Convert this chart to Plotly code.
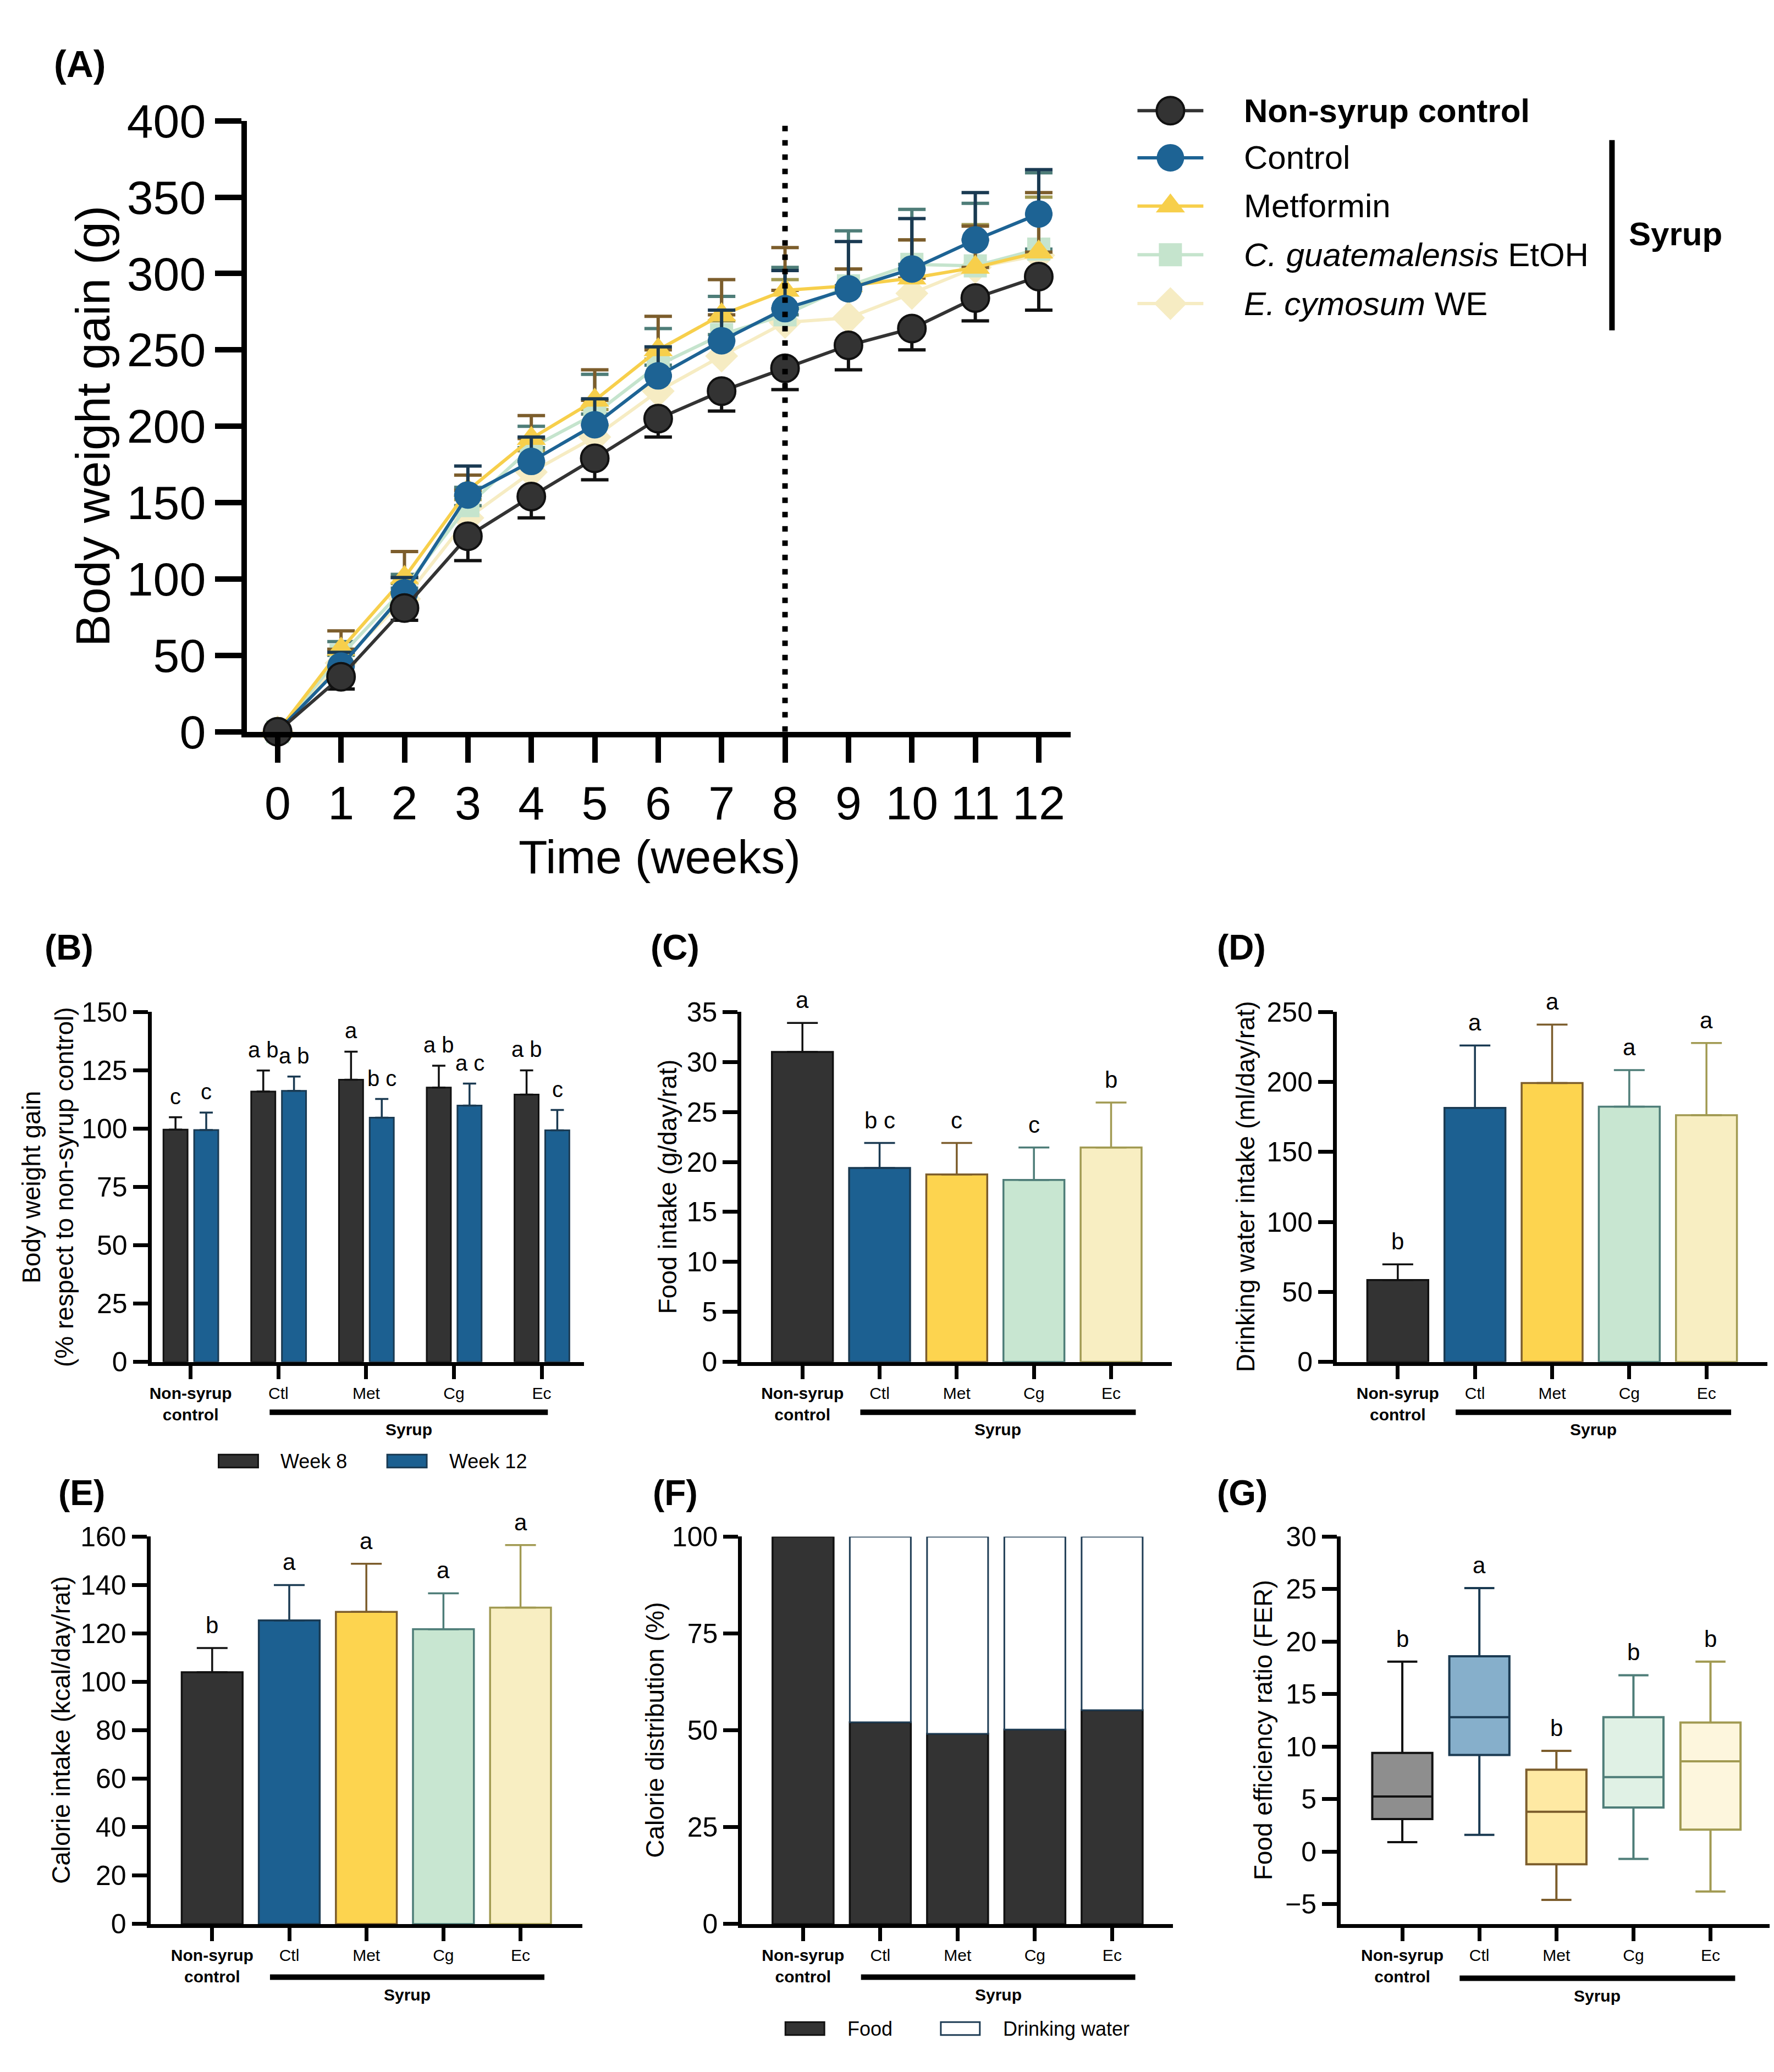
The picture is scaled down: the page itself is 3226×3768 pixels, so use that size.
import plotly.graph_objects as go

W, H = 3226, 3768
FONT = "Liberation Sans, Arial, Helvetica, sans-serif"

# ---------------- data ----------------
weeks = list(range(13))

bw_nonsyrup = [0, 36, 81, 128, 154, 179, 205, 223, 238, 253, 264, 284, 298]
bw_nonsyrup_sd = [0, 8, 8, 16, 14, 14, 12, 13, 14, 16, 14, 15, 22]
bw_ctl = [0, 43, 91, 155, 177, 201, 233, 256, 277, 290, 303, 322, 339]
bw_ctl_sd = [0, 9, 10, 19, 16, 17, 19, 20, 25, 31, 33, 31, 29]
bw_met = [0, 54, 101, 158, 192, 217, 250, 273, 289, 292, 297, 304, 314]
bw_met_sd = [0, 12, 17, 10, 15, 20, 22, 23, 28, 11, 25, 27, 39]
bw_cg = [0, 50, 94, 148, 186, 208, 240, 260, 273, 292, 306, 305, 316]
bw_cg_sd = [0, 9, 9, 12, 14, 26, 24, 25, 31, 36, 36, 41, 50]
bw_ec = [0, 45, 87, 140, 170, 193, 223, 246, 268, 271, 287, 304, 312]
bw_ec_sd = [0, 9, 10, 12, 14, 18, 21, 23, 28, 32, 35, 28, 38]

groups = ["Non-syrup control", "Ctl", "Met", "Cg", "Ec"]
group_ticks = ["<b>Non-syrup</b><br><b>control</b>", "Ctl", "Met", "Cg", "Ec"]

# (B) body weight gain, % of non-syrup control
bwg_week8 = [99.6, 115.9, 121.0, 117.6, 114.6]
bwg_week8_sd = [5.3, 9.0, 12.0, 9.4, 10.4]
bwg_week12 = [99.4, 116.2, 104.7, 109.9, 99.3]
bwg_week12_sd = [7.5, 6.1, 8.0, 9.4, 8.7]
letters_b_w8 = ["c", "a b", "a", "a b", "a b"]
letters_b_w12 = ["c", "a b", "b c", "a c", "c"]

# (C) food intake
food = [31.0, 19.4, 18.75, 18.2, 21.45]
food_sd = [2.9, 2.5, 3.15, 3.25, 4.5]
letters_c = ["a", "b c", "c", "c", "b"]

# (D) drinking water intake
water = [58.5, 181.5, 199.3, 182.4, 176.3]
water_sd = [11.2, 44.6, 41.7, 26.1, 51.5]
letters_d = ["b", "a", "a", "a", "a"]

# (E) calorie intake
kcal = [104.0, 125.4, 128.9, 121.8, 130.7]
kcal_sd = [10.0, 14.6, 19.9, 14.8, 25.8]
letters_e = ["b", "a", "a", "a", "a"]

# (F) calorie distribution
share_food = [100, 52.1, 49.1, 50.2, 55.2]
share_water = [None, 47.9, 50.9, 49.8, 44.8]

# (G) food efficiency ratio, box stats
fer_min = [0.9, 1.6, -4.6, -0.7, -3.8]
fer_q1 = [3.1, 9.2, -1.2, 4.2, 2.1]
fer_med = [5.25, 12.8, 3.8, 7.1, 8.6]
fer_q3 = [9.4, 18.6, 7.8, 12.8, 12.3]
fer_max = [18.1, 25.1, 9.6, 16.8, 18.1]
letters_g = ["b", "a", "b", "b", "b"]

# ---------------- styles ----------------
fill = ["#333333", "#1c6091", "#fdd44f", "#c8e6d1", "#f8eec2"]
edge = ["#111111", "#1a3a52", "#7c5d2c", "#4e7d78", "#a19a52"]
box_fill = ["#8e8e8e", "#86afcb", "#fee9a3", "#e0f1e5", "#fdf6dd"]


def px(x):
    return x / W


def py(y):
    return 1 - y / H


def dom_x(x0, x1):
    return [x0 / W, x1 / W]


def dom_y(y0, y1):
    return [1 - y1 / H, 1 - y0 / H]


fig = go.Figure()
annotations = []
shapes = []

# ---------------- (A) growth curves ----------------
series_a = [
    ("Ec", bw_ec, bw_ec_sd, "diamond", 46, "#f6ecc3", "#a19a52", False),
    ("Cg", bw_cg, bw_cg_sd, "square", 42, "#c5e4cd", "#4e7d78", False),
    ("Met", bw_met, bw_met_sd, "triangle-up", 46, "#f7cf4b", "#7c5d2c", False),
    ("Ctl", bw_ctl, bw_ctl_sd, "circle", 50, "#1d6394", "#1a3a52", False),
    ("Non", bw_nonsyrup, bw_nonsyrup_sd, "circle", 50, "#333333", "#111111", True),
]
for name, vals, sd, sym, size, col, ecol, down in series_a:
    if down:
        err = dict(type="data", symmetric=False, array=[0] * len(sd), arrayminus=sd,
                   color=ecol, thickness=6, width=25)
    else:
        err = dict(type="data", symmetric=False, array=sd, arrayminus=[0] * len(sd),
                   color=ecol, thickness=6, width=25)
    fig.add_trace(go.Scatter(
        x=weeks, y=vals, mode="lines+markers", name=name, showlegend=False,
        line=dict(color=col, width=6),
        marker=dict(symbol=sym, size=size, color=col, opacity=1,
                    line=dict(color="#111111" if down else col, width=4 if down else 0)),
        error_y=err, cliponaxis=False, xaxis="x", yaxis="y"))

shapes.append(dict(type="line", xref="x", yref="y", x0=8, x1=8, y0=0, y1=400,
                   line=dict(color="black", width=10, dash="10px,16px")))

# legend of (A), drawn on a hidden full-page axis
legend_rows = [149, 237, 327, 418, 509]
legend_items = [
    ("<b>Non-syrup control</b>", "circle", 50, "#333333", "#111111", 4),
    ("Control", "circle", 50, "#1d6394", "#1d6394", 0),
    ("Metformin", "triangle-up", 46, "#f7cf4b", "#f7cf4b", 0),
    ("<i>C. guatemalensis</i> EtOH", "square", 42, "#c5e4cd", "#c5e4cd", 0),
    ("<i>E. cymosum</i> WE", "diamond", 46, "#f6ecc3", "#f6ecc3", 0),
]
for row, (label, sym, size, col, mline, mw) in zip(legend_rows, legend_items):
    fig.add_trace(go.Scatter(
        x=[2059, 2179], y=[row, row], mode="lines", showlegend=False,
        line=dict(color=col, width=6), xaxis="x8", yaxis="y8", hoverinfo="skip"))
    fig.add_trace(go.Scatter(
        x=[2119], y=[row], mode="markers", showlegend=False,
        marker=dict(symbol=sym, size=size, color=col, opacity=1,
                    line=dict(color=mline, width=mw)),
        xaxis="x8", yaxis="y8", hoverinfo="skip"))
    annotations.append(dict(text=label, x=px(2251), y=py(row), xref="paper", yref="paper",
                            xanchor="left", yanchor="middle", showarrow=False,
                            font=dict(size=60)))
shapes.append(dict(type="line", xref="paper", yref="paper", x0=px(2923), x1=px(2923),
                   y0=py(204), y1=py(559), line=dict(color="black", width=10)))
annotations.append(dict(text="<b>Syrup</b>", x=px(2952), y=py(379), xref="paper", yref="paper",
                        xanchor="left", yanchor="middle", showarrow=False, font=dict(size=60)))

# ---------------- (B) grouped bars ----------------
fig.add_trace(go.Bar(
    x=list(range(5)), y=bwg_week8, width=0.275, offset=-0.31, showlegend=False,
    marker=dict(color="#333333", line=dict(color="#111111", width=3)),
    error_y=dict(type="data", symmetric=False, array=bwg_week8_sd, arrayminus=[0] * 5,
                 color="#111111", thickness=3.5, width=12),
    xaxis="x2", yaxis="y2"))
fig.add_trace(go.Bar(
    x=list(range(5)), y=bwg_week12, width=0.275, offset=0.04, showlegend=False,
    marker=dict(color="#1c6091", line=dict(color="#1a3a52", width=3)),
    error_y=dict(type="data", symmetric=False, array=bwg_week12_sd, arrayminus=[0] * 5,
                 color="#1a3a52", thickness=3.5, width=12),
    xaxis="x2", yaxis="y2"))
for i in range(5):
    annotations.append(dict(text=letters_b_w8[i], x=i - 0.172, y=bwg_week8[i] + bwg_week8_sd[i],
                            xref="x2", yref="y2", yanchor="bottom", yshift=14,
                            showarrow=False, font=dict(size=40)))
    annotations.append(dict(text=letters_b_w12[i], x=i + 0.18, y=bwg_week12[i] + bwg_week12_sd[i],
                            xref="x2", yref="y2", yanchor="bottom", yshift=14,
                            showarrow=False, font=dict(size=40)))


# ---------------- (C), (D), (E) single bars ----------------
def single_bars(n, vals, sd, letters):
    for i in range(5):
        fig.add_trace(go.Bar(
            x=[i], y=[vals[i]], width=0.79, showlegend=False,
            marker=dict(color=fill[i], line=dict(color=edge[i], width=3.5)),
            error_y=dict(type="data", symmetric=False, array=[sd[i]], arrayminus=[0],
                         color=edge[i], thickness=3.5, width=28),
            xaxis=f"x{n}", yaxis=f"y{n}"))
        annotations.append(dict(text=letters[i], x=i, y=vals[i] + sd[i],
                                xref=f"x{n}", yref=f"y{n}", yanchor="bottom", yshift=16,
                                showarrow=False, font=dict(size=42)))


single_bars(3, food, food_sd, letters_c)
single_bars(4, water, water_sd, letters_d)
single_bars(5, kcal, kcal_sd, letters_e)

# ---------------- (F) stacked distribution ----------------
fig.add_trace(go.Bar(
    x=list(range(5)), y=share_food, width=0.79, showlegend=False,
    marker=dict(color="#333333", line=dict(color="#111111", width=3.5)),
    xaxis="x6", yaxis="y6"))
fig.add_trace(go.Bar(
    x=list(range(5)), y=share_water, base=share_food, width=0.79, showlegend=False,
    marker=dict(color="white", line=dict(color="#1f3d55", width=3)),
    xaxis="x6", yaxis="y6"))

# ---------------- (G) box plots ----------------
for i in range(5):
    fig.add_trace(go.Box(
        x=[i], q1=[fer_q1[i]], median=[fer_med[i]], q3=[fer_q3[i]],
        lowerfence=[fer_min[i]], upperfence=[fer_max[i]], width=0.78,
        whiskerwidth=0.5, fillcolor=box_fill[i], line=dict(color=edge[i], width=4),
        boxpoints=False, showlegend=False, xaxis="x7", yaxis="y7"))
    annotations.append(dict(text=letters_g[i], x=i, y=fer_max[i], xref="x7", yref="y7",
                            yanchor="bottom", yshift=16, showarrow=False, font=dict(size=42)))

# ---------------- axes ----------------
axis_common = dict(showline=True, linecolor="black", ticks="outside", tickcolor="black",
                   showgrid=False, zeroline=False)

layout_axes = {}
layout_axes["xaxis"] = dict(axis_common, domain=dom_x(438, 1937), range=[-0.48, 12.5],
                            anchor="y", tickvals=weeks, linewidth=10, tickwidth=10,
                            ticklen=46, tickfont=dict(size=86))
layout_axes["yaxis"] = dict(axis_common, domain=dom_y(168, 1308), range=[0, 400],
                            anchor="x", tickvals=list(range(0, 401, 50)), linewidth=10,
                            tickwidth=10, ticklen=48, tickfont=dict(size=86))

panels = {
    # n: (x0, x1, y0, y1, xrange, yrange, yticks)
    2: (264, 1051, 1831, 2484, [-0.445, 4.48], [0, 150], list(range(0, 151, 25))),
    3: (1338, 2122, 1831, 2484, [-0.79, 4.79], [0, 35], list(range(0, 36, 5))),
    4: (2422, 3206, 1831, 2484, [-0.79, 4.79], [0, 250], list(range(0, 251, 50))),
    5: (262, 1048, 2810, 3533, [-0.8, 4.8], [0, 160], list(range(0, 161, 20))),
    6: (1339, 2124, 2810, 3533, [-0.79, 4.79], [0, 100], list(range(0, 101, 25))),
    7: (2429, 3216, 2810, 3533, [-0.8, 4.81], [-6.9, 30], list(range(-5, 31, 5))),
}
for n, (x0, x1, y0, y1, xr, yr, yt) in panels.items():
    layout_axes[f"xaxis{n}"] = dict(axis_common, domain=dom_x(x0, x1), range=xr, anchor=f"y{n}",
                                    tickvals=list(range(5)), ticktext=group_ticks,
                                    linewidth=7, tickwidth=7, ticklen=24,
                                    tickfont=dict(size=30))
    layout_axes[f"yaxis{n}"] = dict(axis_common, domain=dom_y(y0, y1), range=yr, anchor=f"x{n}",
                                    tickvals=yt, linewidth=7, tickwidth=7, ticklen=27,
                                    tickfont=dict(size=50))

layout_axes["xaxis8"] = dict(domain=[0, 1], range=[0, W], visible=False, fixedrange=True,
                             anchor="y8")
layout_axes["yaxis8"] = dict(domain=[0, 1], range=[H, 0], visible=False, fixedrange=True,
                             anchor="x8")

# syrup brackets below the bar panels
brackets = {
    2: (0.9, 4.07, 2578, 2610),
    3: (0.75, 4.32, 2578, 2610),
    4: (0.75, 4.32, 2578, 2610),
    5: (0.75, 4.31, 3632, 3665),
    6: (0.75, 4.3, 3632, 3665),
    7: (0.744, 4.32, 3634, 3667),
}
for n, (b0, b1, yb, yt) in brackets.items():
    shapes.append(dict(type="line", xref=f"x{n}", yref="paper", x0=b0, x1=b1,
                       y0=py(yb), y1=py(yb), line=dict(color="black", width=10)))
    annotations.append(dict(text="<b>Syrup</b>", x=(b0 + b1) / 2, y=py(yt), xref=f"x{n}",
                            yref="paper", yanchor="middle", showarrow=False,
                            font=dict(size=30)))

# legends of (B) and (F)
shapes.append(dict(type="rect", xref="paper", yref="paper", x0=px(386), x1=px(458),
                   y0=py(2681), y1=py(2657), fillcolor="#333333",
                   line=dict(color="#111111", width=3)))
shapes.append(dict(type="rect", xref="paper", yref="paper", x0=px(693), x1=px(765),
                   y0=py(2681), y1=py(2657), fillcolor="#1c6091",
                   line=dict(color="#1a3a52", width=3)))
annotations.append(dict(text="Week 8", x=px(497), y=py(2669), xref="paper", yref="paper",
                        xanchor="left", yanchor="middle", showarrow=False, font=dict(size=36)))
annotations.append(dict(text="Week 12", x=px(804), y=py(2669), xref="paper", yref="paper",
                        xanchor="left", yanchor="middle", showarrow=False, font=dict(size=36)))

shapes.append(dict(type="rect", xref="paper", yref="paper", x0=px(1418), x1=px(1489),
                   y0=py(3740), y1=py(3716), fillcolor="#333333",
                   line=dict(color="#111111", width=3)))
shapes.append(dict(type="rect", xref="paper", yref="paper", x0=px(1701), x1=px(1772),
                   y0=py(3740), y1=py(3716), fillcolor="white",
                   line=dict(color="#1f3d55", width=3)))
annotations.append(dict(text="Food", x=px(1529), y=py(3728), xref="paper", yref="paper",
                        xanchor="left", yanchor="middle", showarrow=False, font=dict(size=36)))
annotations.append(dict(text="Drinking water", x=px(1812), y=py(3728), xref="paper",
                        yref="paper", xanchor="left", yanchor="middle", showarrow=False,
                        font=dict(size=36)))

# axis titles
titles = [
    ("Body weight gain (g)", 156, 738, 88),
    ("Body weight gain<br>(% respect to non-syrup control)", 75, 2157, 46),
    ("Food intake (g/day/rat)", 1204, 2157, 46),
    ("Drinking water intake (ml/day/rat)", 2256, 2157, 46),
    ("Calorie intake (kcal/day/rat)", 99, 3171, 46),
    ("Calorie distribution (%)", 1181, 3171, 46),
    ("Food efficiency ratio (FER)", 2288, 3171, 46),
]
for text, x, y, size in titles:
    annotations.append(dict(text=text, x=px(x), y=py(y), xref="paper", yref="paper",
                            xanchor="center", yanchor="middle", textangle=-90,
                            showarrow=False, font=dict(size=size)))
annotations.append(dict(text="Time (weeks)", x=px(1189), y=py(1541), xref="paper", yref="paper",
                        xanchor="center", yanchor="middle", showarrow=False,
                        font=dict(size=86)))

# panel letters
for text, x, y, size in [("(A)", 84, 62, 68), ("(B)", 67, 1711, 64), ("(C)", 1170, 1711, 64),
                         ("(D)", 2202, 1711, 64), ("(E)", 92, 2729, 64),
                         ("(F)", 1174, 2729, 64), ("(G)", 2202, 2729, 64)]:
    annotations.append(dict(text=f"<b>{text}</b>", x=px(x), y=py(y), xref="paper", yref="paper",
                            xanchor="left", yanchor="middle", showarrow=False,
                            font=dict(size=size)))

fig.update_layout(
    width=W, height=H, margin=dict(l=0, r=0, t=0, b=0),
    paper_bgcolor="white", plot_bgcolor="rgba(0,0,0,0)",
    font=dict(family=FONT, color="black"),
    barmode="overlay", showlegend=False,
    annotations=annotations, shapes=shapes,
    **layout_axes,
)

fig.write_html("out.html")
